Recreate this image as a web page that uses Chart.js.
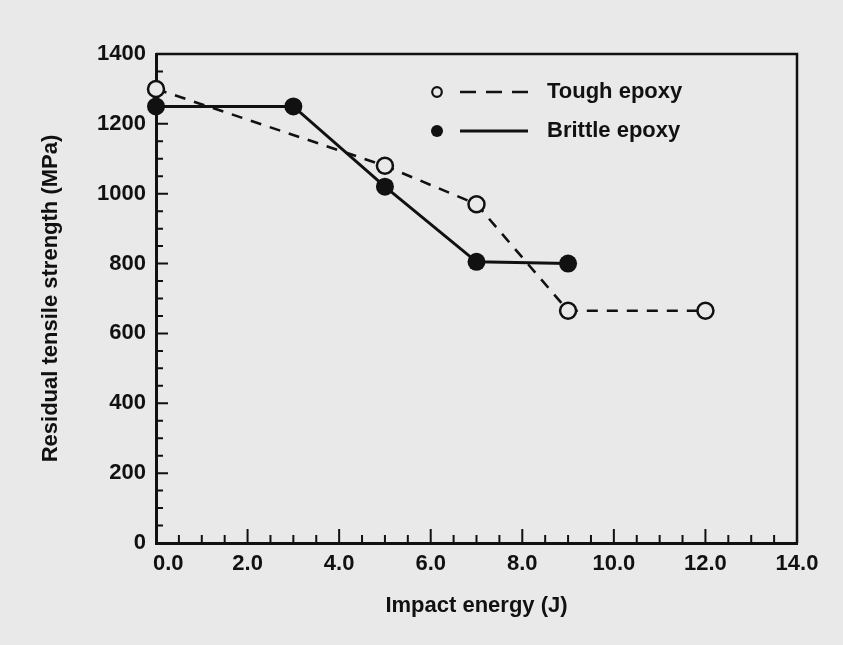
<!DOCTYPE html>
<html>
<head>
<meta charset="utf-8">
<script src="https://cdn.jsdelivr.net/npm/chart.js@4.4.1/dist/chart.umd.min.js"></script>
<style>
  html, body { margin: 0; padding: 0; background: #e9e9e9; }
  #wrap { width: 843px; height: 645px; }
</style>
</head>
<body>
<div id="wrap"><canvas id="c" width="843" height="645"></canvas></div>
<script>
// Residual tensile strength after impact, two matrix systems
const seriesNames = ['Tough epoxy', 'Brittle epoxy'];

const toughEnergy   = [0, 5, 7, 9, 12];
const toughStrength = [1300, 1080, 970, 665, 665];

const brittleEnergy   = [0, 3, 5, 7, 9];
const brittleStrength = [1250, 1250, 1020, 805, 800];

const xTickValues = [0, 2, 4, 6, 8, 10, 12, 14];
const yTickValues = [0, 200, 400, 600, 800, 1000, 1200, 1400];
const xMinorStep = 0.5;
const yMinorStep = 50;

const xTitle = 'Impact energy (J)';
const yTitle = 'Residual tensile strength (MPa)';

const INK = '#111111';
const PAPER = '#e9e9e9';
const FONT = { family: '"Liberation Sans", Arial, Helvetica, sans-serif', size: 22, weight: 'bold' };
const DASH = [11, 9];

const toPoints = (xs, ys) => xs.map((x, i) => ({ x, y: ys[i] }));

// closed frame plus inward major/minor tick marks on the two value axes
const frameTicks = {
  id: 'frameTicks',
  beforeDatasetsDraw(chart) {
    const { ctx, chartArea: a, scales: { x, y } } = chart;
    ctx.save();
    ctx.strokeStyle = INK;
    ctx.lineCap = 'butt';
    // top and right edges
    ctx.lineWidth = 2.5;
    ctx.beginPath();
    ctx.moveTo(a.left, a.top);
    ctx.lineTo(a.right, a.top);
    ctx.lineTo(a.right, a.bottom);
    ctx.stroke();
    ctx.lineWidth = 2;
    ctx.beginPath();
    for (let v = x.min + xMinorStep; v < x.max - 1e-9; v += xMinorStep) {
      const px = x.getPixelForValue(v);
      const major = xTickValues.some(t => Math.abs(t - v) < 1e-9);
      const len = major ? 14 : 8;
      ctx.moveTo(px, a.bottom);
      ctx.lineTo(px, a.bottom - len);
    }
    for (let v = y.min + yMinorStep; v < y.max - 1e-9; v += yMinorStep) {
      const py = y.getPixelForValue(v);
      const major = yTickValues.some(t => Math.abs(t - v) < 1e-9);
      const len = major ? 12 : 7;
      ctx.moveTo(a.left, py);
      ctx.lineTo(a.left + len, py);
    }
    ctx.stroke();
    ctx.restore();
  }
};

// key: marker, line sample, then the series name
const keyBox = {
  id: 'keyBox',
  afterDatasetsDraw(chart) {
    const { ctx, chartArea: a } = chart;
    const markX = a.left + 281;
    const lineFrom = a.left + 304;
    const lineTo = a.left + 372;
    const textX = a.left + 391;
    const rows = [a.top + 38, a.top + 77];
    ctx.save();
    chart.data.datasets.forEach((ds, i) => {
      const yy = rows[i];
      ctx.strokeStyle = INK;
      ctx.lineWidth = ds.borderWidth;
      ctx.setLineDash(ds.borderDash && ds.borderDash.length ? [16, 10] : []);
      ctx.beginPath();
      ctx.moveTo(lineFrom, yy);
      ctx.lineTo(lineTo, yy);
      ctx.stroke();
      ctx.setLineDash([]);
      ctx.beginPath();
      if (ds.pointBackgroundColor === INK) {
        ctx.fillStyle = INK;
        ctx.arc(markX, yy, 6, 0, Math.PI * 2);
        ctx.fill();
      } else {
        ctx.fillStyle = PAPER;
        ctx.lineWidth = 2.2;
        ctx.arc(markX, yy, 4.8, 0, Math.PI * 2);
        ctx.fill();
        ctx.stroke();
      }
      ctx.fillStyle = INK;
      ctx.font = `${FONT.weight} ${FONT.size}px ${FONT.family}`;
      ctx.textAlign = 'left';
      ctx.textBaseline = 'middle';
      ctx.fillText(ds.label, textX, yy);
    });
    ctx.restore();
  }
};

new Chart(document.getElementById('c'), {
  type: 'scatter',
  data: {
    datasets: [
      {
        label: seriesNames[0],
        data: toPoints(toughEnergy, toughStrength),
        showLine: true,
        borderColor: INK,
        borderWidth: 2.6,
        borderDash: DASH,
        pointRadius: 8,
        pointBorderWidth: 2.5,
        pointBackgroundColor: PAPER,
        pointBorderColor: INK,
        clip: false,
        order: 2
      },
      {
        label: seriesNames[1],
        data: toPoints(brittleEnergy, brittleStrength),
        showLine: true,
        borderColor: INK,
        borderWidth: 3,
        borderDash: [],
        pointRadius: 9,
        pointBorderWidth: 0,
        pointBackgroundColor: INK,
        pointBorderColor: INK,
        clip: false,
        order: 1
      }
    ]
  },
  options: {
    responsive: false,
    animation: false,
    devicePixelRatio: 1,
    layout: { padding: { left: 30, right: 46, top: 54, bottom: 20 } },
    plugins: { legend: { display: false }, tooltip: { enabled: false } },
    elements: { line: { tension: 0 } },
    scales: {
      x: {
        type: 'linear',
        min: 0,
        max: 14,
        afterBuildTicks(scale) { scale.ticks = xTickValues.map(v => ({ value: v })); },
        afterFit(scale) { scale.height = 82; },
        grid: { display: false, drawTicks: false },
        border: { display: true, color: INK, width: 3 },
        ticks: {
          color: INK,
          font: FONT,
          padding: 8,
          maxRotation: 0,
          autoSkip: false,
          // the origin label sits a little right, clear of the vertical axis
          callback: v => (v === 0 ? '    ' : '') + Number(v).toFixed(1)
        },
        title: {
          display: true,
          text: xTitle,
          color: INK,
          font: FONT,
          padding: { top: 0, bottom: 6 }
        }
      },
      y: {
        type: 'linear',
        min: 0,
        max: 1400,
        afterBuildTicks(scale) { scale.ticks = yTickValues.map(v => ({ value: v })); },
        afterFit(scale) { scale.width = 126; },
        grid: { display: false, drawTicks: false },
        border: { display: true, color: INK, width: 3 },
        ticks: {
          color: INK,
          font: FONT,
          padding: 10,
          autoSkip: false,
          callback: v => String(v)
        },
        title: {
          display: true,
          text: yTitle,
          color: INK,
          font: FONT,
          padding: { top: 8, bottom: 0 }
        }
      }
    }
  },
  plugins: [frameTicks, keyBox]
});
</script>
</body>
</html>
